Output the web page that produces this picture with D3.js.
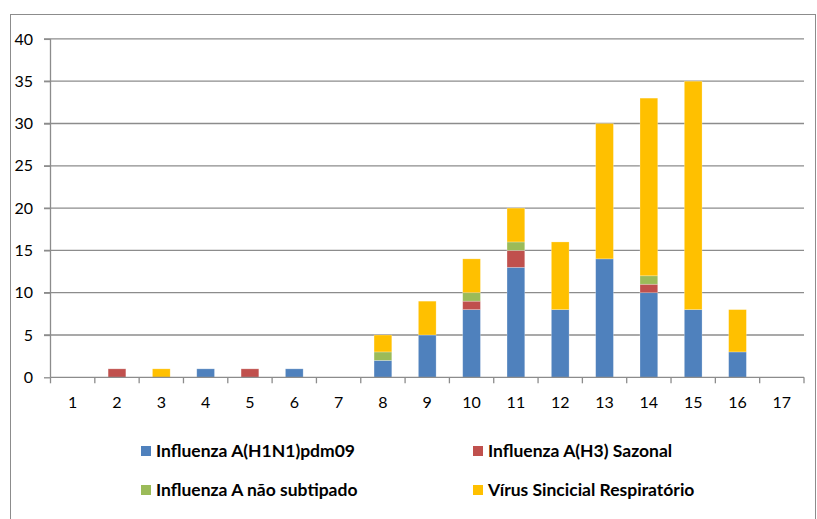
<!DOCTYPE html>
<html><head><meta charset="utf-8">
<script src="https://cdn.jsdelivr.net/npm/d3@7"></script>
<style>body{margin:0;background:#fff}svg{display:block}</style>
</head><body>
<svg id="c" width="817" height="519"></svg>
<script>
const weeks = ["1","2","3","4","5","6","7","8","9","10","11","12","13","14","15","16","17"];
const h1n1   = [0,0,0,1,0,1,0,2,5,8,13,8,14,10,8,3,0];
const h3     = [0,1,0,0,1,0,0,0,0,1,2,0,0,1,0,0,0];
const naoSub = [0,0,0,0,0,0,0,1,0,1,1,0,0,1,0,0,0];
const vsr    = [0,0,1,0,0,0,0,2,4,4,4,8,16,21,27,5,0];
const seriesNames = ["Influenza A(H1N1)pdm09","Influenza A(H3) Sazonal","Influenza A não subtipado","Vírus Sincicial Respiratório"];
const colors = ["#4F81BD","#C0504D","#9BBB59","#FFC000"];
const yTicks = [0,5,10,15,20,25,30,35,40];

const svg = d3.select("#c");
const font = "Lato, 'Noto Sans', sans-serif";
svg.append("rect").attr("x",10.5).attr("y",14.5).attr("width",805).attr("height",520)
  .attr("fill","none").attr("stroke","#8c8c8c").attr("stroke-width",1);

const L=50.5, R=804, T=38.9, B=377.3;
const x = d3.scaleBand().domain(weeks).range([L,R]).paddingInner(0.6).paddingOuter(0.3);
const y = d3.scaleLinear().domain([0,40]).range([B,T]);

// gridlines
svg.append("g").selectAll("line").data(yTicks.filter(d=>d>0)).join("line")
  .attr("x1",L-6.5).attr("x2",R).attr("y1",d=>y(d)).attr("y2",d=>y(d))
  .attr("stroke","#8c8c8c").attr("stroke-width",1.3);

const table = weeks.map((w,i)=>({week:w, s0:h1n1[i], s1:h3[i], s2:naoSub[i], s3:vsr[i]}));
const stack = d3.stack().keys(["s0","s1","s2","s3"])(table);
svg.append("g").selectAll("g").data(stack).join("g").attr("fill",(d,i)=>colors[i])
  .selectAll("rect").data(d=>d.filter(p=>p[1]-p[0]>0)).join("rect")
  .attr("x",d=>x(d.data.week)).attr("width",x.bandwidth())
  .attr("y",d=>y(d[1])).attr("height",d=>y(d[0])-y(d[1]))
  .attr("stroke","#ffffff").attr("stroke-opacity",0.35).attr("stroke-width",0.7);

// axes
const xAxis = d3.axisBottom(x).tickSize(0).tickPadding(19.5);
const gx = svg.append("g").attr("transform",`translate(0,${B})`).call(xAxis);
gx.select(".domain").attr("stroke","#8c8c8c").attr("stroke-width",1.3).attr("d",`M${L},0H${R}`);
gx.selectAll("text").attr("font-family",font).attr("font-size",16).attr("fill","#000");
// category boundary ticks
svg.append("g").selectAll("line").data(d3.range(weeks.length+1)).join("line")
  .attr("x1",d=>L+d*(R-L)/weeks.length).attr("x2",d=>L+d*(R-L)/weeks.length)
  .attr("y1",B).attr("y2",B+6).attr("stroke","#8c8c8c").attr("stroke-width",1.3);

const yAxis = d3.axisLeft(y).tickValues(yTicks).tickSize(6.5).tickPadding(11);
const gy = svg.append("g").attr("transform",`translate(${L},0)`).call(yAxis);
gy.select(".domain").attr("stroke","#8c8c8c").attr("stroke-width",1.3).attr("d",`M0,${T}V${B}`);
gy.selectAll(".tick line").attr("stroke","#8c8c8c").attr("stroke-width",1.3);
gy.selectAll("text").attr("font-family",font).attr("font-size",16).attr("fill","#000");

// legend
const legPos = [[141,451],[473,451],[141,490],[473,490]];
const lg = svg.append("g").selectAll("g").data(seriesNames).join("g")
  .attr("transform",(d,i)=>`translate(${legPos[i][0]},${legPos[i][1]})`);
lg.append("rect").attr("x",0).attr("y",-5).attr("width",10).attr("height",10).attr("fill",(d,i)=>colors[i]);
lg.append("text").attr("x",15).attr("y",6.3).text(d=>d)
  .attr("font-family",font).attr("font-size",17.5).attr("font-weight","bold").attr("fill","#000");
</script>
</body></html>
